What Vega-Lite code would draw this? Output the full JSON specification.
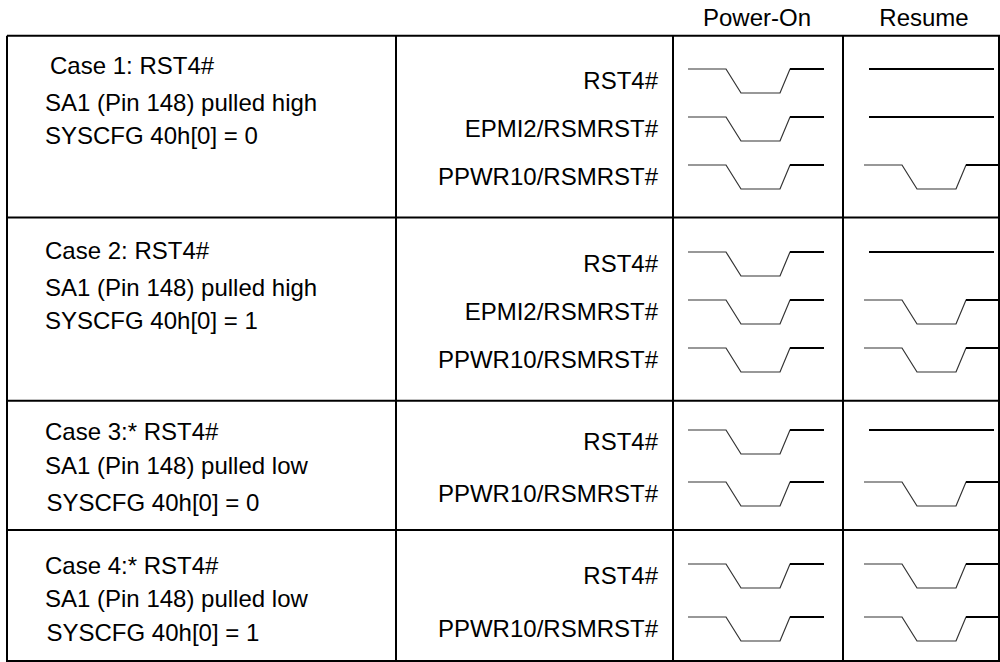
{
  "$schema": "https://vega.github.io/schema/vega-lite/v6.json",
  "width": 1000,
  "height": 662,
  "autosize": {"type": "none"},
  "padding": 0,
  "background": "white",
  "config": {"view": {"stroke": null}, "text": {"font": "Liberation Sans", "fontSize": 24, "color": "black"}},
  "datasets": {
    "grid": [
      {"x": 7, "x2": 1000, "y": 35.7, "y2": 35.7},
      {"x": 7, "x2": 1000, "y": 217.5, "y2": 217.5},
      {"x": 7, "x2": 1000, "y": 400.8, "y2": 400.8},
      {"x": 7, "x2": 1000, "y": 530, "y2": 530},
      {"x": 7, "x2": 1000, "y": 661, "y2": 661},
      {"x": 7, "x2": 7, "y": 35.7, "y2": 662},
      {"x": 396, "x2": 396, "y": 35.7, "y2": 662},
      {"x": 673, "x2": 673, "y": 35.7, "y2": 662},
      {"x": 843, "x2": 843, "y": 35.7, "y2": 662},
      {"x": 999, "x2": 999, "y": 35.7, "y2": 662}
    ],
    "headers": [
      {"x": 757, "y": 19, "label": "Power-On"},
      {"x": 924, "y": 19, "label": "Resume"}
    ],
    "desc": [
      {"x": 50, "y": 67, "label": "Case 1: RST4#"},
      {"x": 45, "y": 104, "label": "SA1 (Pin 148) pulled high"},
      {"x": 45, "y": 137, "label": "SYSCFG 40h[0] = 0"},
      {"x": 45, "y": 252, "label": "Case 2: RST4#"},
      {"x": 45, "y": 289, "label": "SA1 (Pin 148) pulled high"},
      {"x": 45, "y": 322, "label": "SYSCFG 40h[0] = 1"},
      {"x": 45, "y": 433, "label": "Case 3:* RST4#"},
      {"x": 45, "y": 467, "label": "SA1 (Pin 148) pulled low"},
      {"x": 46.5, "y": 504, "label": "SYSCFG 40h[0] = 0"},
      {"x": 45, "y": 567, "label": "Case 4:* RST4#"},
      {"x": 45, "y": 600, "label": "SA1 (Pin 148) pulled low"},
      {"x": 46.5, "y": 634, "label": "SYSCFG 40h[0] = 1"}
    ],
    "names": [
      {"x": 658, "y": 82, "label": "RST4#"},
      {"x": 658, "y": 130, "label": "EPMI2/RSMRST#"},
      {"x": 658, "y": 178, "label": "PPWR10/RSMRST#"},
      {"x": 658, "y": 265, "label": "RST4#"},
      {"x": 658, "y": 313, "label": "EPMI2/RSMRST#"},
      {"x": 658, "y": 361, "label": "PPWR10/RSMRST#"},
      {"x": 658, "y": 443, "label": "RST4#"},
      {"x": 658, "y": 495, "label": "PPWR10/RSMRST#"},
      {"x": 658, "y": 577, "label": "RST4#"},
      {"x": 658, "y": 630, "label": "PPWR10/RSMRST#"}
    ],
    "waves": [
      {"id": "p1a", "k": 1, "x": 688, "y": 69}, {"id": "p1a", "k": 2, "x": 726, "y": 69}, {"id": "p1a", "k": 3, "x": 741, "y": 93}, {"id": "p1a", "k": 4, "x": 780, "y": 93}, {"id": "p1a", "k": 5, "x": 790, "y": 69}, {"id": "p1a", "k": 6, "x": 824, "y": 69},
      {"id": "p1b", "k": 1, "x": 688, "y": 117}, {"id": "p1b", "k": 2, "x": 726, "y": 117}, {"id": "p1b", "k": 3, "x": 741, "y": 141}, {"id": "p1b", "k": 4, "x": 780, "y": 141}, {"id": "p1b", "k": 5, "x": 790, "y": 117}, {"id": "p1b", "k": 6, "x": 824, "y": 117},
      {"id": "p1c", "k": 1, "x": 688, "y": 165}, {"id": "p1c", "k": 2, "x": 726, "y": 165}, {"id": "p1c", "k": 3, "x": 741, "y": 189}, {"id": "p1c", "k": 4, "x": 780, "y": 189}, {"id": "p1c", "k": 5, "x": 790, "y": 165}, {"id": "p1c", "k": 6, "x": 824, "y": 165},
      {"id": "r1c", "k": 1, "x": 864, "y": 165}, {"id": "r1c", "k": 2, "x": 902, "y": 165}, {"id": "r1c", "k": 3, "x": 917, "y": 189}, {"id": "r1c", "k": 4, "x": 956, "y": 189}, {"id": "r1c", "k": 5, "x": 966, "y": 165}, {"id": "r1c", "k": 6, "x": 998, "y": 165},
      {"id": "p2a", "k": 1, "x": 688, "y": 252}, {"id": "p2a", "k": 2, "x": 726, "y": 252}, {"id": "p2a", "k": 3, "x": 741, "y": 276}, {"id": "p2a", "k": 4, "x": 780, "y": 276}, {"id": "p2a", "k": 5, "x": 790, "y": 252}, {"id": "p2a", "k": 6, "x": 824, "y": 252},
      {"id": "p2b", "k": 1, "x": 688, "y": 300}, {"id": "p2b", "k": 2, "x": 726, "y": 300}, {"id": "p2b", "k": 3, "x": 741, "y": 324}, {"id": "p2b", "k": 4, "x": 780, "y": 324}, {"id": "p2b", "k": 5, "x": 790, "y": 300}, {"id": "p2b", "k": 6, "x": 824, "y": 300},
      {"id": "p2c", "k": 1, "x": 688, "y": 348}, {"id": "p2c", "k": 2, "x": 726, "y": 348}, {"id": "p2c", "k": 3, "x": 741, "y": 372}, {"id": "p2c", "k": 4, "x": 780, "y": 372}, {"id": "p2c", "k": 5, "x": 790, "y": 348}, {"id": "p2c", "k": 6, "x": 824, "y": 348},
      {"id": "r2b", "k": 1, "x": 864, "y": 300}, {"id": "r2b", "k": 2, "x": 902, "y": 300}, {"id": "r2b", "k": 3, "x": 917, "y": 324}, {"id": "r2b", "k": 4, "x": 956, "y": 324}, {"id": "r2b", "k": 5, "x": 966, "y": 300}, {"id": "r2b", "k": 6, "x": 998, "y": 300},
      {"id": "r2c", "k": 1, "x": 864, "y": 348}, {"id": "r2c", "k": 2, "x": 902, "y": 348}, {"id": "r2c", "k": 3, "x": 917, "y": 372}, {"id": "r2c", "k": 4, "x": 956, "y": 372}, {"id": "r2c", "k": 5, "x": 966, "y": 348}, {"id": "r2c", "k": 6, "x": 998, "y": 348},
      {"id": "p3a", "k": 1, "x": 688, "y": 430}, {"id": "p3a", "k": 2, "x": 726, "y": 430}, {"id": "p3a", "k": 3, "x": 741, "y": 454}, {"id": "p3a", "k": 4, "x": 780, "y": 454}, {"id": "p3a", "k": 5, "x": 790, "y": 430}, {"id": "p3a", "k": 6, "x": 824, "y": 430},
      {"id": "p3b", "k": 1, "x": 688, "y": 482}, {"id": "p3b", "k": 2, "x": 726, "y": 482}, {"id": "p3b", "k": 3, "x": 741, "y": 506}, {"id": "p3b", "k": 4, "x": 780, "y": 506}, {"id": "p3b", "k": 5, "x": 790, "y": 482}, {"id": "p3b", "k": 6, "x": 824, "y": 482},
      {"id": "r3b", "k": 1, "x": 864, "y": 482}, {"id": "r3b", "k": 2, "x": 902, "y": 482}, {"id": "r3b", "k": 3, "x": 917, "y": 506}, {"id": "r3b", "k": 4, "x": 956, "y": 506}, {"id": "r3b", "k": 5, "x": 966, "y": 482}, {"id": "r3b", "k": 6, "x": 998, "y": 482},
      {"id": "p4a", "k": 1, "x": 688, "y": 564}, {"id": "p4a", "k": 2, "x": 726, "y": 564}, {"id": "p4a", "k": 3, "x": 741, "y": 588}, {"id": "p4a", "k": 4, "x": 780, "y": 588}, {"id": "p4a", "k": 5, "x": 790, "y": 564}, {"id": "p4a", "k": 6, "x": 824, "y": 564},
      {"id": "p4b", "k": 1, "x": 688, "y": 617}, {"id": "p4b", "k": 2, "x": 726, "y": 617}, {"id": "p4b", "k": 3, "x": 741, "y": 641}, {"id": "p4b", "k": 4, "x": 780, "y": 641}, {"id": "p4b", "k": 5, "x": 790, "y": 617}, {"id": "p4b", "k": 6, "x": 824, "y": 617},
      {"id": "r4a", "k": 1, "x": 864, "y": 564}, {"id": "r4a", "k": 2, "x": 902, "y": 564}, {"id": "r4a", "k": 3, "x": 917, "y": 588}, {"id": "r4a", "k": 4, "x": 956, "y": 588}, {"id": "r4a", "k": 5, "x": 966, "y": 564}, {"id": "r4a", "k": 6, "x": 998, "y": 564},
      {"id": "r4b", "k": 1, "x": 864, "y": 617}, {"id": "r4b", "k": 2, "x": 902, "y": 617}, {"id": "r4b", "k": 3, "x": 917, "y": 641}, {"id": "r4b", "k": 4, "x": 956, "y": 641}, {"id": "r4b", "k": 5, "x": 966, "y": 617}, {"id": "r4b", "k": 6, "x": 998, "y": 617}
    ],
    "highs": [
      {"x": 790, "x2": 824, "y": 69}, {"x": 790, "x2": 824, "y": 117}, {"x": 790, "x2": 824, "y": 165},
      {"x": 790, "x2": 824, "y": 252}, {"x": 790, "x2": 824, "y": 300}, {"x": 790, "x2": 824, "y": 348},
      {"x": 790, "x2": 824, "y": 430}, {"x": 790, "x2": 824, "y": 482},
      {"x": 790, "x2": 824, "y": 564}, {"x": 790, "x2": 824, "y": 617},
      {"x": 966, "x2": 998, "y": 165}, {"x": 966, "x2": 998, "y": 300}, {"x": 966, "x2": 998, "y": 348},
      {"x": 966, "x2": 998, "y": 482}, {"x": 966, "x2": 998, "y": 564}, {"x": 966, "x2": 998, "y": 617},
      {"x": 869, "x2": 994, "y": 69}, {"x": 869, "x2": 994, "y": 117},
      {"x": 869, "x2": 994, "y": 252}, {"x": 869, "x2": 994, "y": 430}
    ]
  },
  "layer": [
    {
      "data": {"name": "grid"},
      "mark": {"type": "rule", "strokeWidth": 2, "color": "black"},
      "encoding": {
        "x": {"field": "x", "type": "quantitative", "scale": {"domain": [0, 1000], "nice": false, "zero": false}, "axis": null},
        "x2": {"field": "x2"},
        "y": {"field": "y", "type": "quantitative", "scale": {"domain": [0, 662], "nice": false, "zero": false, "reverse": true}, "axis": null},
        "y2": {"field": "y2"}
      }
    },
    {
      "data": {"name": "waves"},
      "mark": {"type": "line", "strokeWidth": 1.2, "color": "#333333", "interpolate": "linear"},
      "encoding": {
        "x": {"field": "x", "type": "quantitative", "axis": null},
        "y": {"field": "y", "type": "quantitative", "axis": null},
        "detail": {"field": "id", "type": "nominal"},
        "order": {"field": "k", "type": "quantitative"}
      }
    },
    {
      "data": {"name": "highs"},
      "mark": {"type": "rule", "strokeWidth": 2, "color": "black"},
      "encoding": {
        "x": {"field": "x", "type": "quantitative", "axis": null},
        "x2": {"field": "x2"},
        "y": {"field": "y", "type": "quantitative", "axis": null}
      }
    },
    {
      "data": {"name": "headers"},
      "mark": {"type": "text", "align": "center", "baseline": "middle"},
      "encoding": {
        "x": {"field": "x", "type": "quantitative", "axis": null},
        "y": {"field": "y", "type": "quantitative", "axis": null},
        "text": {"field": "label"}
      }
    },
    {
      "data": {"name": "desc"},
      "mark": {"type": "text", "align": "left", "baseline": "middle"},
      "encoding": {
        "x": {"field": "x", "type": "quantitative", "axis": null},
        "y": {"field": "y", "type": "quantitative", "axis": null},
        "text": {"field": "label"}
      }
    },
    {
      "data": {"name": "names"},
      "mark": {"type": "text", "align": "right", "baseline": "middle"},
      "encoding": {
        "x": {"field": "x", "type": "quantitative", "axis": null},
        "y": {"field": "y", "type": "quantitative", "axis": null},
        "text": {"field": "label"}
      }
    }
  ]
}
